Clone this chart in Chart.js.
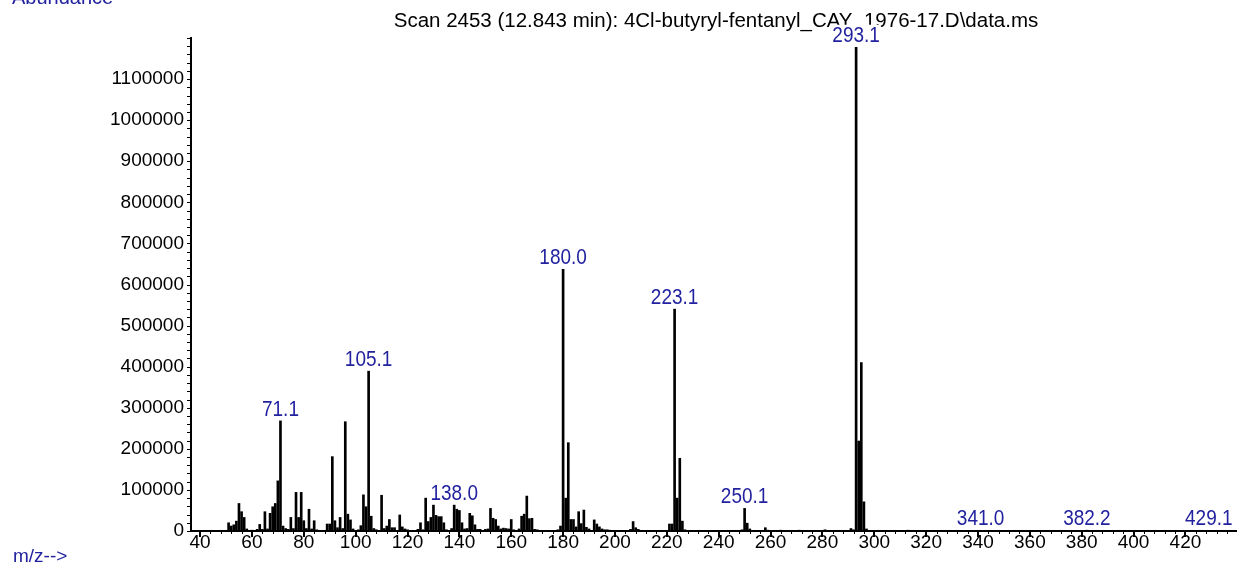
<!DOCTYPE html>
<html><head><meta charset="utf-8">
<script src="https://cdn.jsdelivr.net/npm/chart.js@4"></script>
<style>html,body{margin:0;padding:0;background:#fff;overflow:hidden}#wrap{position:relative;width:1238px;height:567px}</style>
</head><body><div id="wrap"><canvas id="c" width="1238" height="567"></canvas></div>
<script>
const mzValues = [51,52,53,54,55,56,57,58,60,62,63,64,65,66,67,68,69,70,71,72,73,74,75,76,77,78,79,80,81,82,83,84,85,
89,90,91,92,93,94,95,96,97,98,99,101,102,103,104,105,106,107,108,110,111,112,113,114,115,117,118,119,120,
124,125,126,127,128,129,130,131,132,133,134,135,137,138,139,140,141,142,143,144,145,146,147,148,150,151,152,153,154,155,156,157,158,159,160,161,163,164,165,166,167,168,169,170,
178,179,180,181,182,183,184,185,186,187,188,189,190,192,193,194,195,196,197,198,206,207,208,209,
221,222,223,224,225,226,227,249,250,251,252,258,259,264,271,281,291,292,293,294,295,296,297,313,341,382,429];
const abundances = [20000,12000,15000,24000,67000,47000,33000,5000,2000,4000,16000,4000,47000,5000,43000,59000,67000,122000,268000,12000,6000,4000,33000,6000,94000,33000,94000,25000,6000,53000,5000,25000,3000,
17000,17000,181000,25000,8000,33000,6000,266000,41000,27000,5000,3000,13000,88000,59000,389000,36000,6000,3000,87000,6000,12000,28000,8000,8000,39000,10000,5000,3000,
4000,20000,3000,80000,23000,33000,63000,38000,35000,35000,20000,3000,6000,63000,53000,50000,20000,5000,6000,43000,37000,15000,4000,4000,4000,5000,55000,31000,28000,12000,5000,7000,6000,5000,28000,3000,5000,36000,41000,85000,30000,31000,4000,3000,
3000,12000,637000,80000,215000,28000,28000,10000,47000,18000,51000,9000,5000,27000,17000,10000,5000,3000,3000,2000,4000,23000,8000,4000,
17000,17000,540000,80000,177000,24000,3000,3000,55000,19000,5000,8000,2000,2000,2000,3000,6000,3000,1177000,219000,410000,71000,5000,2000,1500,2000,1500];
const peakLabelText = ['71.1','105.1','138.0','180.0','223.1','250.1','293.1','341.0','382.2','429.1'];
const peakLabelMz = [71,105,138,180,223,250,293,341,382,429];
const xTickLabels = [40,60,80,100,120,140,160,180,200,220,240,260,280,300,320,340,360,380,400,420];
const yTickLabels = [0,100000,200000,300000,400000,500000,600000,700000,800000,900000,1000000,1100000];
const titleText = 'Scan 2453 (12.843 min): 4Cl-butyryl-fentanyl_CAY_1976-17.D\\data.ms';
const yAxisText = 'Abundance';
const xAxisText = 'm/z-->';

const FONT = '"Liberation Sans", Arial, sans-serif';
const BLUE = '#2222a0';

function hasLabel(list, v) {
  return list.some(t => Math.abs(t - v) < 1e-6 * Math.max(1, Math.abs(t)));
}

const annot = {
  id: 'annot',
  afterDraw(chart) {
    const {ctx, scales: {x, y}} = chart;
    ctx.save();
    const y0 = y.getPixelForValue(0);
    const ax = x.left;
    ctx.strokeStyle = '#000';
    for (let v = 40; v <= x.max; v += 4) {
      const major = v % 20 === 0;
      const px = Math.round(x.getPixelForValue(v));
      ctx.lineWidth = major ? 2 : 1;
      const off = major ? 0 : 0.5;
      ctx.beginPath(); ctx.moveTo(px + off, y0); ctx.lineTo(px + off, y0 + (major ? 6 : 3)); ctx.stroke();
    }
    ctx.lineWidth = 1;
    for (let v = 0; v <= y.max; v += 20000) {
      const py = Math.round(y.getPixelForValue(v)) + 0.5;
      ctx.beginPath(); ctx.moveTo(ax - 4, py); ctx.lineTo(ax, py); ctx.stroke();
    }
    ctx.fillStyle = '#000';
    ctx.font = '20.5px ' + FONT;
    ctx.textAlign = 'center'; ctx.textBaseline = 'alphabetic';
    ctx.fillText(titleText, 716, 27);
    ctx.fillStyle = BLUE;
    ctx.textAlign = 'left';
    ctx.font = '20px ' + FONT;
    ctx.fillText(yAxisText, 12, 4);
    ctx.font = '19px ' + FONT;
    ctx.fillText(xAxisText, 13, 562);
    ctx.textAlign = 'center';
    ctx.font = '19px ' + FONT;
    peakLabelMz.forEach((m, i) => {
      const idx = mzValues.indexOf(m);
      const val = idx >= 0 ? abundances[idx] : 0;
      const px = x.getPixelForValue(m);
      const py = y.getPixelForValue(val) - 5;
      const w = ctx.measureText(peakLabelText[i]).width;
      ctx.save();
      ctx.translate(px, py);
      ctx.scale(1, 1.18);
      ctx.fillStyle = '#fff';
      ctx.fillRect(-w / 2 - 1, -15, w + 2, 16);
      ctx.fillStyle = BLUE;
      ctx.fillText(peakLabelText[i], 0, 0);
      ctx.restore();
    });
    ctx.restore();
  }
};

new Chart(document.getElementById('c'), {
  type: 'bar',
  data: {
    datasets: [{
      data: mzValues.map((m, i) => ({x: m, y: abundances[i]})),
      backgroundColor: '#000',
      borderWidth: 0,
      barThickness: 2,
      grouped: false
    }]
  },
  options: {
    responsive: false,
    animation: false,
    devicePixelRatio: 1,
    layout: {padding: {top: 38, right: 2, left: 0, bottom: 0}},
    plugins: {legend: {display: false}, tooltip: {enabled: false}, title: {display: false}},
    scales: {
      x: {
        type: 'linear', min: 36.5, max: 439.5, offset: false,
        grid: {display: false, drawTicks: false, offset: false},
        border: {display: true, color: '#000', width: 2},
        ticks: {
          stepSize: 4, autoSkip: false, maxRotation: 0, includeBounds: false, padding: 0, maxTicksLimit: 500,
          color: '#000', font: {family: FONT, size: 19},
          callback: v => hasLabel(xTickLabels, v) ? String(Math.round(v)) : ''
        },
        afterFit: s => { s.height = 36; }
      },
      y: {
        type: 'linear', min: 0, max: 1200000,
        grid: {display: false, drawTicks: false},
        border: {display: true, color: '#000', width: 2},
        ticks: {
          stepSize: 100000, autoSkip: false, includeBounds: false, padding: 7, maxTicksLimit: 500,
          color: '#000', font: {family: FONT, size: 19},
          callback: v => hasLabel(yTickLabels, v) ? String(Math.round(v)) : ''
        },
        afterFit: s => { s.width = 191; }
      }
    }
  },
  plugins: [annot]
});
</script></body></html>
